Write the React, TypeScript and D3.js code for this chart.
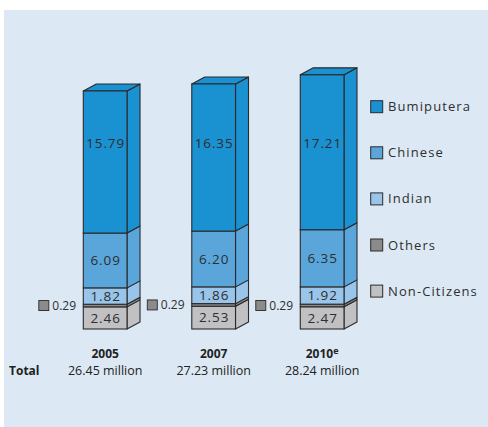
import React from "react";
import * as d3 from "d3";

const years = ["2005", "2007", "2010"];
const yearSup = ["", "", "e"];
const totals = ["26.45 million", "27.23 million", "28.24 million"];
const nonCitizens = [2.46, 2.53, 2.47];
const others = [0.29, 0.29, 0.29];
const indian = [1.82, 1.86, 1.92];
const chinese = [6.09, 6.2, 6.35];
const bumiputera = [15.79, 16.35, 17.21];
const legendNames = ["Bumiputera", "Chinese", "Indian", "Others", "Non-Citizens"];

const keys = ["Non-Citizens", "Others", "Indian", "Chinese", "Bumiputera"];
const colors: Record<string, string> = {
  Bumiputera: "#1a91d1",
  Chinese: "#5aa6db",
  Indian: "#9ac5ea",
  Others: "#8b8b8c",
  "Non-Citizens": "#c1c1c3",
};

const rows = years.map((y, i) => ({
  year: y,
  "Non-Citizens": nonCitizens[i],
  Others: others[i],
  Indian: indian[i],
  Chinese: chinese[i],
  Bumiputera: bumiputera[i],
}));

export default function App() {
  const W = 488, H = 427;
  const x = d3.scaleBand<string>().domain(years).range([83.3, 344]).paddingInner(0.597).paddingOuter(0);
  const y = d3.scaleLinear().domain([0, 30]).range([329, 59]);
  const stack = d3.stack<any>().keys(keys)(rows);
  const dx = 13, dy = 7;
  const stroke = "#2a2a2a";
  const sw = 1.1;
  const font = "'Open Sans', sans-serif";
  const textColor = "#2e2e2e";

  return (
    <svg width={W} height={H} style={{ position: "absolute", left: 0, top: 0 }} xmlns="http://www.w3.org/2000/svg">
      <rect x={0} y={0} width={W} height={H} fill="#fff" />
      <rect x={4} y={10} width={484} height={417} fill="#dce9f5" />
      {stack.map((layer) => (
        <g key={layer.key}>
          {layer.map((d, i) => {
            const x0 = x(years[i])!;
            const x1 = x0 + x.bandwidth();
            const yt = y(d[1]);
            const yb = y(d[0]);
            const isTop = layer.key === "Bumiputera";
            const c = colors[layer.key];
            return (
              <g key={i}>
                <polygon
                  points={`${x1},${yb} ${x1 + dx},${yb - dy} ${x1 + dx},${yt - dy} ${x1},${yt}`}
                  fill={c}
                  stroke={stroke}
                  strokeWidth={sw}
                  strokeLinejoin="round"
                />
                {isTop && (
                  <polygon
                    points={`${x0},${yt} ${x0 + dx},${yt - dy} ${x1 + dx},${yt - dy} ${x1},${yt}`}
                    fill={c}
                    stroke={stroke}
                    strokeWidth={sw}
                    strokeLinejoin="round"
                  />
                )}
                <rect x={x0} y={yt} width={x1 - x0} height={yb - yt} fill={c} stroke={stroke} strokeWidth={sw} />
              </g>
            );
          })}
        </g>
      ))}
      {stack.map((layer) =>
        layer.map((d, i) => {
          const x0 = x(years[i])!;
          const cx = x0 + x.bandwidth() / 2;
          const v = d[1] - d[0];
          if (layer.key === "Others") {
            const cy = y((d[0] + d[1]) / 2);
            return (
              <g key={layer.key + i}>
                <rect x={x0 - 44.5} y={cy - 5} width={10} height={10} fill={colors.Others} stroke={stroke} strokeWidth={0.9} />
                <text x={x0 - 31} y={cy} dy="0.35em" fontFamily={font} fontSize={12} fill={textColor}>
                  {v.toFixed(2)}
                </text>
              </g>
            );
          }
          const cy = layer.key === "Bumiputera" ? y(20.6) : y((d[0] + d[1]) / 2);
          return (
            <text
              key={layer.key + i}
              x={cx + 0.5}
              y={cy}
              dy="0.36em"
              textAnchor="middle"
              fontFamily={font}
              fontSize={13.5}
              letterSpacing={0.9}
              fill={textColor}
            >
              {v.toFixed(2)}
            </text>
          );
        })
      )}
      {years.map((yr, i) => {
        const cx = x(yr)! + x.bandwidth() / 2;
        return (
          <g key={yr}>
            <text x={cx} y={354} dy="0.35em" textAnchor="middle" fontFamily={font} fontSize={12} fontWeight="bold" fill="#222">
              {yr}
              {yearSup[i] && (
                <tspan fontSize={9} dy="-0.45em">
                  {yearSup[i]}
                </tspan>
              )}
            </text>
            <text x={cx} y={371} dy="0.35em" textAnchor="middle" fontFamily={font} fontSize={12.5} fill="#222">
              {totals[i]}
            </text>
          </g>
        );
      })}
      <text x={9} y={371} dy="0.35em" fontFamily={font} fontSize={12} fontWeight="bold" fill="#222">
        Total
      </text>
      {legendNames.map((n, i) => {
        const cy = 106.7 + i * 46.1;
        return (
          <g key={n}>
            <rect x={370.7} y={cy - 6} width={12} height={12} fill={colors[n]} stroke={stroke} strokeWidth={1} />
            <text x={388} y={cy} dy="0.35em" fontFamily={font} fontSize={13} letterSpacing={1.1} fill={textColor}>
              {n}
            </text>
          </g>
        );
      })}
    </svg>
  );
}
